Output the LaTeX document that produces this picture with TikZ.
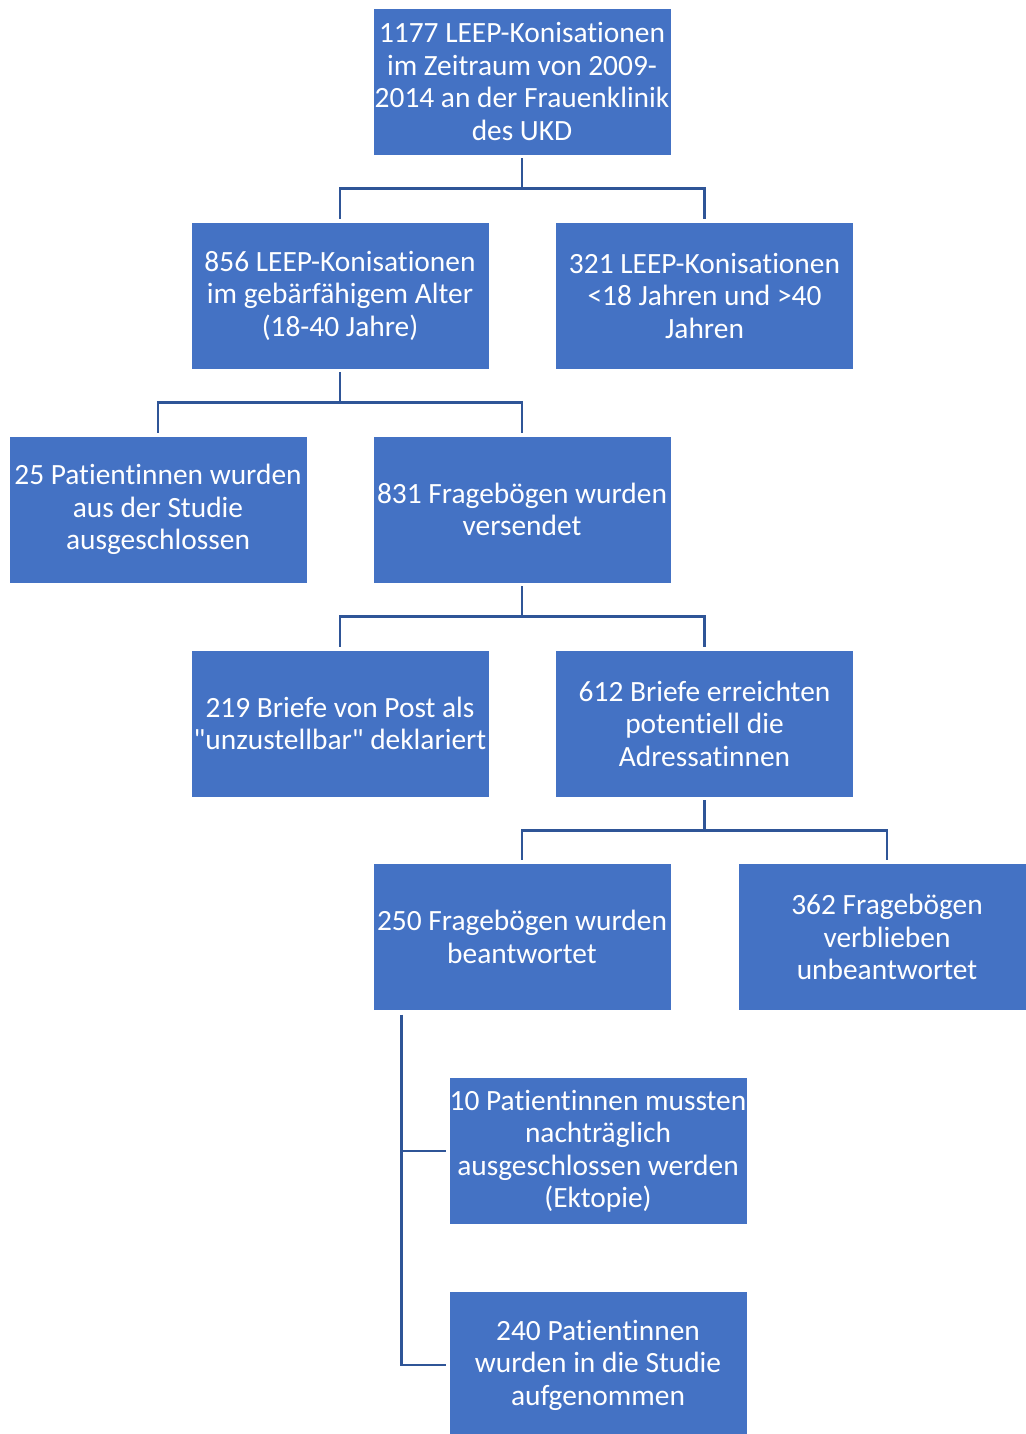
\documentclass[tikz,border=0pt]{standalone}
\usepackage{fontspec}
\setmainfont{Carlito}[Ligatures={TeXOff,NoCommon}]
\usetikzlibrary{calc}
\definecolor{boxblue}{HTML}{4472C4}
\definecolor{lineblue}{HTML}{2F5597}
\begin{document}
\begin{tikzpicture}[x=1pt,y=-1pt,
  box/.style={fill=boxblue, draw=white, line width=0.6pt, minimum width=298pt, minimum height=147pt,
    inner sep=0pt, align=center, text=white, font=\fontsize{29.4}{32.5}\selectfont},
  conn/.style={draw=lineblue, line width=2.6pt}]
\useasboundingbox (0,0) rectangle (1025,1434);
\node[box] (b1) at (522,81.5) {1177 LEEP-Konisationen\\im Zeitraum von 2009-\\2014 an der Frauenklinik\\des UKD};
\node[box] (b2) at (340,295.5) {856 LEEP-Konisationen\\im gebärfähigem Alter\\(18-40 Jahre)};
\node[box] (b3) at (704.5,295.5) {321 LEEP-Konisationen\\<18 Jahren und >40\\Jahren};
\node[box] (b4) at (158,509.5) {25 Patientinnen wurden\\aus der Studie\\ausgeschlossen};
\node[box] (b5) at (522,509.5) {831 Fragebögen wurden\\versendet};
\node[box] (b6) at (340,723.5) {219 Briefe von Post als\\"unzustellbar" deklariert};
\node[box] (b7) at (704.5,723.5) {612 Briefe erreichten\\potentiell die\\Adressatinnen};
\node[box] (b8) at (522,937) {250 Fragebögen wurden\\beantwortet};
\node[box] (b9) at (887,937) {362 Fragebögen\\verblieben\\unbeantwortet};
\node[box] (b10) at (598,1151) {10 Patientinnen mussten\\nachträglich\\ausgeschlossen werden\\(Ektopie)};
\node[box] (b11) at (598,1365) {240 Patientinnen\\wurden in die Studie\\aufgenommen};
\foreach \p/\a/\b in {b1/b2/b3, b2/b4/b5, b5/b6/b7, b7/b8/b9} {
  \coordinate (mid) at ($(\p.south)!0.5!(\p.south |- \a.north)$);
  \draw[conn] ([yshift=-3pt]\p.south) -- (mid) -| ([yshift=3pt]\a.north);
  \draw[conn] (mid) -| ([yshift=3pt]\b.north);
}
\coordinate (top) at ($(b8.south west)+(29,4)$);
\draw[conn] (top) |- ([xshift=-3pt]b10.west);
\draw[conn] (top) |- ([xshift=-3pt]b11.west);
\end{tikzpicture}
\end{document}
